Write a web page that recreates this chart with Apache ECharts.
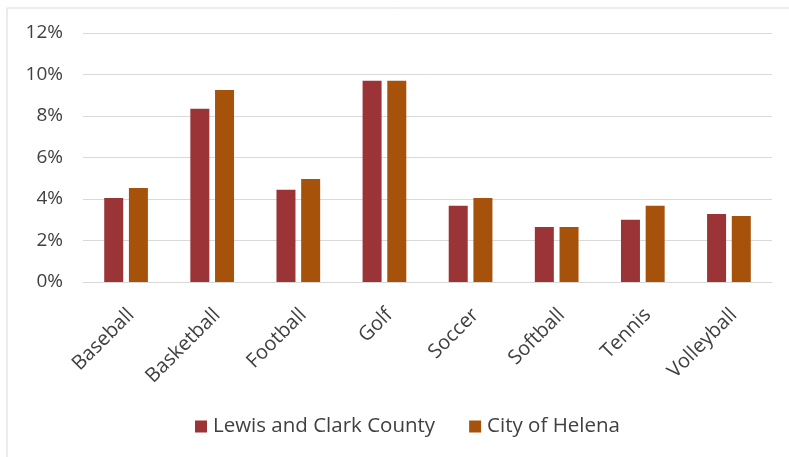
<!DOCTYPE html>
<html><head><meta charset="utf-8">
<script src="https://cdn.jsdelivr.net/npm/echarts@6/dist/echarts.min.js"></script>
<style>html,body{margin:0;padding:0;background:#fff}#c{width:789px;height:457px}</style>
</head><body><div id="c"></div>
<script>
const categories = ['Baseball','Basketball','Football','Golf','Soccer','Softball','Tennis','Volleyball'];
const lewisClark = [4.05, 8.35, 4.45, 9.7, 3.67, 2.65, 3.0, 3.28];
const helena = [4.53, 9.25, 4.96, 9.7, 4.05, 2.65, 3.67, 3.18];
const seriesNames = ['Lewis and Clark County', 'City of Helena'];
const yTicks = [0, 2, 4, 6, 8, 10, 12];

const chart = echarts.init(document.getElementById('c'), null, {renderer: 'canvas'});
const font = '"Open Sans", "Liberation Sans", sans-serif';
chart.setOption({
  animation: false,
  backgroundColor: '#fff',
  graphic: [{type: 'rect', shape: {x: 7, y: 8, width: 800, height: 500}, style: {fill: 'none', stroke: '#d9d9d9', lineWidth: 1}, silent: true}],
  grid: {left: 83, right: 17, top: 33, bottom: 175, containLabel: false},
  legend: {
    data: seriesNames, top: 411, left: 190, itemWidth: 12, itemHeight: 12, itemGap: 34,
    icon: 'rect',
    textStyle: {fontFamily: font, fontSize: 20.5, color: '#404040', padding: [0, 0, 0, 1]}
  },
  xAxis: {
    type: 'category', data: categories,
    axisLine: {lineStyle: {color: '#d9d9d9'}}, axisTick: {show: false},
    axisLabel: {rotate: 45, interval: 0, fontFamily: font, fontSize: 20, color: '#404040', margin: 15, verticalAlign: 'top', lineHeight: 28, padding: [0, 7, 0, 0]}
  },
  yAxis: {
    type: 'value', min: yTicks[0], max: yTicks[yTicks.length - 1], interval: 2,
    axisLine: {show: false}, axisTick: {show: false},
    splitLine: {lineStyle: {color: '#d9d9d9'}},
    axisLabel: {formatter: v => v + '%', fontFamily: font, fontSize: 19, color: '#404040', margin: 20}
  },
  series: [
    {name: seriesNames[0], type: 'bar', data: lewisClark, barWidth: 19, barGap: '30%', itemStyle: {color: '#9B3436'}},
    {name: seriesNames[1], type: 'bar', data: helena, barWidth: 19, itemStyle: {color: '#A6520B'}}
  ]
});
</script></body></html>
